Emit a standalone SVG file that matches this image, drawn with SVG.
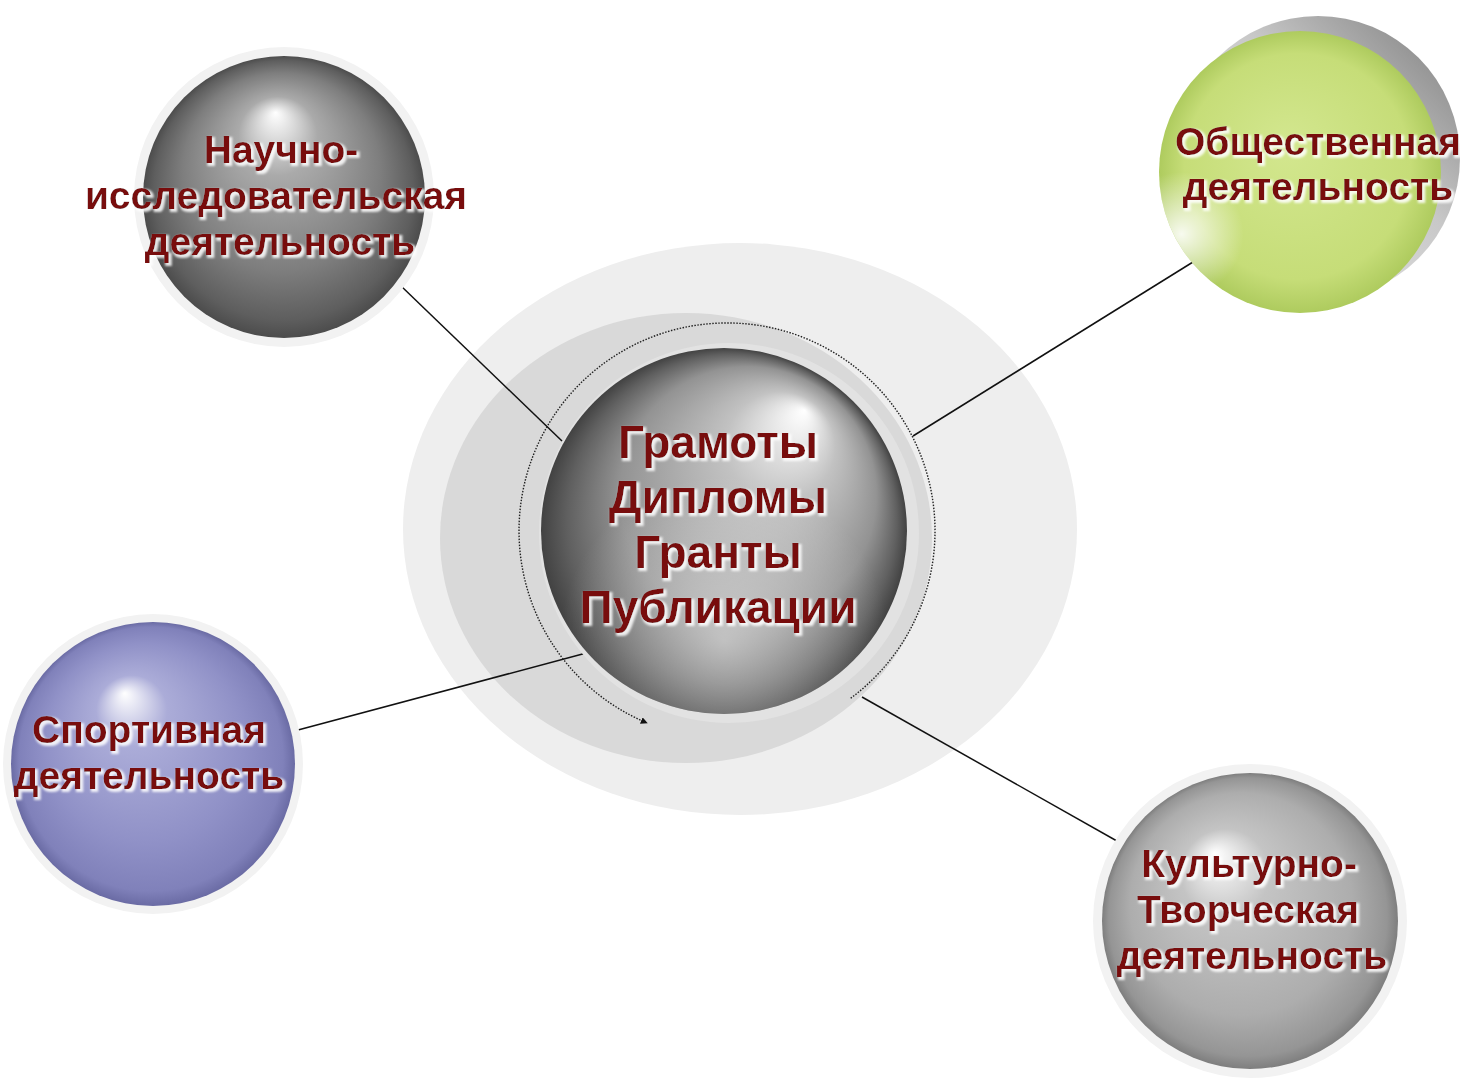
<svg xmlns="http://www.w3.org/2000/svg" width="1462" height="1078" viewBox="0 0 1462 1078">
<style>
.lbl{font-family:"Liberation Sans",Arial,sans-serif;font-weight:bold;fill:#780a0a;text-anchor:middle;filter:url(#glow)}
.conn{stroke:#111;stroke-width:1.5;fill:none}
</style>
<defs>
<filter id="glow" x="-10%" y="-30%" width="120%" height="160%">
<feMorphology in="SourceAlpha" operator="dilate" radius="1" result="d"/>
<feOffset in="d" dx="1.5" dy="1.5" result="o"/>
<feGaussianBlur in="o" stdDeviation="1.2" result="b"/>
<feFlood flood-color="#ffffff" flood-opacity="0.85"/>
<feComposite in2="b" operator="in" result="w"/>
<feMerge><feMergeNode in="w"/><feMergeNode in="SourceGraphic"/></feMerge>
</filter>
<radialGradient id="gCenter" cx="0.5" cy="0.5" r="0.5" fx="0.72" fy="0.17">
<stop offset="0" stop-color="#ffffff"/>
<stop offset="0.3" stop-color="#c2c2c2"/>
<stop offset="0.7" stop-color="#939393"/>
<stop offset="0.9" stop-color="#606060"/>
<stop offset="1" stop-color="#424242"/>
</radialGradient>
<radialGradient id="gBottom" cx="0.5" cy="0.8" r="0.45">
<stop offset="0" stop-color="#ffffff" stop-opacity="0.5"/>
<stop offset="1" stop-color="#ffffff" stop-opacity="0"/>
</radialGradient>
<radialGradient id="gGray1" cx="0.5" cy="0.5" r="0.5" fx="0.47" fy="0.2">
<stop offset="0" stop-color="#ffffff"/>
<stop offset="0.28" stop-color="#aaaaaa"/>
<stop offset="0.7" stop-color="#7e7e7e"/>
<stop offset="0.92" stop-color="#5e5e5e"/>
<stop offset="1" stop-color="#4c4c4c"/>
</radialGradient>
<radialGradient id="gGreen" cx="0.5" cy="0.5" r="0.5" fx="0.45" fy="0.4">
<stop offset="0" stop-color="#d3e78f"/>
<stop offset="0.8" stop-color="#c6dd78"/>
<stop offset="1" stop-color="#aecb5e"/>
</radialGradient>
<linearGradient id="gGreenBack" x1="0" y1="1" x2="1" y2="0">
<stop offset="0" stop-color="#f6f6f6"/>
<stop offset="0.6" stop-color="#c8c8c8"/>
<stop offset="1" stop-color="#7a7a7a"/>
</linearGradient>
<radialGradient id="gGreenHi" cx="0.08" cy="0.72" r="0.22">
<stop offset="0" stop-color="#ffffff" stop-opacity="0.9"/>
<stop offset="1" stop-color="#ffffff" stop-opacity="0"/>
</radialGradient>
<radialGradient id="gPurple" cx="0.5" cy="0.5" r="0.5" fx="0.4" fy="0.25">
<stop offset="0" stop-color="#ffffff"/>
<stop offset="0.25" stop-color="#abacd8"/>
<stop offset="0.7" stop-color="#9091c7"/>
<stop offset="0.93" stop-color="#8081ba"/>
<stop offset="1" stop-color="#6a6ba4"/>
</radialGradient>
<radialGradient id="gGray2" cx="0.5" cy="0.5" r="0.5" fx="0.38" fy="0.27">
<stop offset="0" stop-color="#ffffff"/>
<stop offset="0.3" stop-color="#c4c4c4"/>
<stop offset="0.75" stop-color="#adadad"/>
<stop offset="0.94" stop-color="#959595"/>
<stop offset="1" stop-color="#7e7e7e"/>
</radialGradient>
<marker id="arr" viewBox="0 0 10 10" refX="9" refY="5" markerWidth="7" markerHeight="7" orient="auto" markerUnits="userSpaceOnUse">
<path d="M0,0 L10,5 L0,10 z" fill="#111"/>
</marker>
</defs>
<rect width="1462" height="1078" fill="#ffffff"/>

<g id="backdrop">
<ellipse cx="740" cy="529" rx="337" ry="286" fill="#eeeeee"/>
<ellipse cx="686" cy="538" rx="246" ry="225" fill="#d9d9d9"/>
</g>

<g id="connectors">
<line class="conn" x1="400" y1="285" x2="562" y2="441"/>
<line class="conn" x1="913" y1="436" x2="1193" y2="262"/>
<line class="conn" x1="298" y1="730" x2="590" y2="652"/>
<line class="conn" x1="862" y1="697" x2="1124" y2="845"/>
<path d="M850.7,698.2 A208,208 0 1 0 647.1,723" fill="none" stroke="#222" stroke-width="1.4" stroke-dasharray="1.5 1.5" marker-end="url(#arr)"/>
</g>

<g id="center">
<circle cx="729" cy="533" r="190" fill="#e2e2e2"/>
<circle cx="724" cy="531" r="183" fill="url(#gCenter)"/>
<circle cx="724" cy="531" r="183" fill="url(#gBottom)"/>
<text class="lbl" font-size="46"><tspan x="718" y="458">Грамоты</tspan><tspan x="718" y="513">Дипломы</tspan><tspan x="718" y="568">Гранты</tspan><tspan x="718" y="623">Публикации</tspan></text>
</g>

<g id="node-science">
<circle cx="284" cy="197" r="150" fill="#f2f2f2"/>
<circle cx="284" cy="197" r="141" fill="url(#gGray1)"/>
<text class="lbl" font-size="39"><tspan x="281" y="163">Научно-</tspan><tspan x="276" y="209">исследовательская</tspan><tspan x="280" y="255">деятельность</tspan></text>
</g>

<g id="node-social">
<circle cx="1318" cy="158" r="142" fill="url(#gGreenBack)"/>
<circle cx="1300" cy="172" r="141" fill="url(#gGreen)"/>
<circle cx="1300" cy="172" r="141" fill="url(#gGreenHi)"/>
<text class="lbl" font-size="39"><tspan x="1318" y="155">Общественная</tspan><tspan x="1318" y="200">деятельность</tspan></text>
</g>

<g id="node-sport">
<circle cx="153" cy="764" r="150" fill="#f2f2f2"/>
<circle cx="153" cy="764" r="142" fill="url(#gPurple)"/>
<text class="lbl" font-size="39"><tspan x="149" y="743">Спортивная</tspan><tspan x="149" y="789">деятельность</tspan></text>
</g>

<g id="node-culture">
<circle cx="1250" cy="921" r="157" fill="#f2f2f2"/>
<circle cx="1250" cy="921" r="148" fill="url(#gGray2)"/>
<text class="lbl" font-size="39"><tspan x="1249" y="877">Культурно-</tspan><tspan x="1248" y="923">Творческая</tspan><tspan x="1252" y="969">деятельность</tspan></text>
</g>
</svg>
